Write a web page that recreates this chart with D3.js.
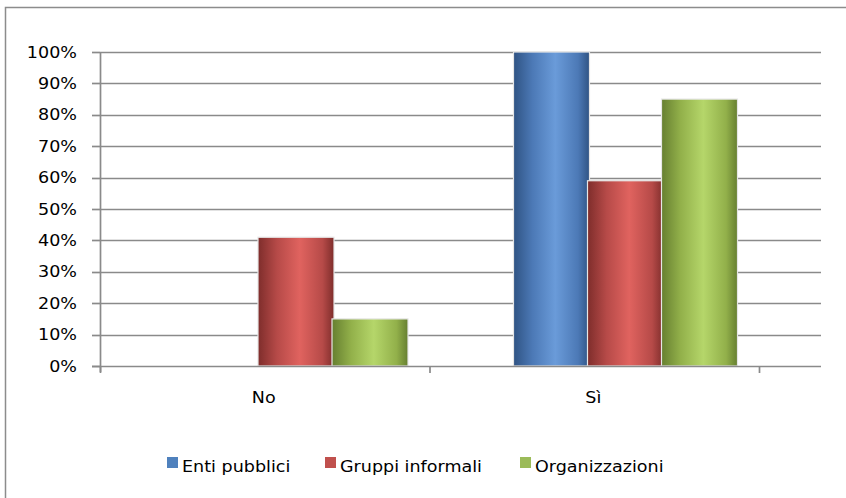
<!DOCTYPE html>
<html>
<head>
<meta charset="utf-8">
<script src="https://cdn.jsdelivr.net/npm/d3@7"></script>
<style>
  html, body { margin: 0; padding: 0; background: #fff; }
  svg { display: block; }
  text { font-family: "DejaVu Sans", Verdana, sans-serif; fill: #000; }
</style>
</head>
<body>
<svg id="chart" width="846" height="498"></svg>
<script>
const categories = ["No", "Sì"];
const seriesNames = ["Enti pubblici", "Gruppi informali", "Organizzazioni"];
const entiPubblici = [0, 100];
const gruppiInformali = [41, 59];
const organizzazioni = [15, 85];
const yTicks = [0, 10, 20, 30, 40, 50, 60, 70, 80, 90, 100];
const tickLabels = yTicks.map(v => v + "%");

(function () {
const seriesValues = [entiPubblici, gruppiInformali, organizzazioni];
const palette = [
  { dark: "#2f5383", mid: "#4c79b6", light: "#6a9bd9", flat: "#4f81bd" },
  { dark: "#7e2d2b", mid: "#b64a48", light: "#e0635f", flat: "#c0504d" },
  { dark: "#667f30", mid: "#92b04a", light: "#b5d66a", flat: "#9bbb59" }
];

const svg = d3.select("#chart");
const defs = svg.append("defs");
palette.forEach((c, i) => {
  const g = defs.append("linearGradient").attr("id", "grad" + i)
    .attr("x1", "0%").attr("x2", "100%").attr("y1", "0%").attr("y2", "0%");
  g.append("stop").attr("offset", "0%").attr("stop-color", c.dark);
  g.append("stop").attr("offset", "25%").attr("stop-color", c.mid);
  g.append("stop").attr("offset", "55%").attr("stop-color", c.light);
  g.append("stop").attr("offset", "85%").attr("stop-color", c.mid);
  g.append("stop").attr("offset", "100%").attr("stop-color", c.dark);
});

// outer chart border
svg.append("rect").attr("x", 5.5).attr("y", 7.5).attr("width", 900).attr("height", 600)
  .attr("fill", "#fff").attr("stroke", "#8c8c8c").attr("stroke-width", 1.5);

const mLeft = 100, mRight = 821, mTop = 52, mBottom = 366;
const y = d3.scaleLinear().domain([0, 100]).range([mBottom, mTop]);
const x0 = d3.scaleBand().domain(categories).range([mLeft, 759]).padding(0);
const x1 = d3.scaleBand().domain(seriesNames).range([84, 306]).padding(0);

// gridlines
svg.append("g").selectAll("line").data(yTicks.filter(v => v > 0)).join("line")
  .attr("x1", mLeft).attr("x2", mRight)
  .attr("y1", d => Math.round(y(d)) + 0.5).attr("y2", d => Math.round(y(d)) + 0.5)
  .attr("stroke", "#8a8a8a").attr("stroke-width", 1.7);

// y axis line & ticks
svg.append("line").attr("x1", mLeft + 0.5).attr("x2", mLeft + 0.5).attr("y1", mTop).attr("y2", mBottom + 6)
  .attr("stroke", "#8a8a8a").attr("stroke-width", 1.7);
svg.append("g").selectAll("line").data(yTicks).join("line")
  .attr("x1", mLeft - 8).attr("x2", mLeft)
  .attr("y1", d => Math.round(y(d)) + 0.5).attr("y2", d => Math.round(y(d)) + 0.5)
  .attr("stroke", "#8a8a8a").attr("stroke-width", 1.7);

// y labels
svg.append("g").selectAll("text").data(yTicks).join("text")
  .attr("transform", d => `translate(77,${y(d) + 5.5}) scale(1.17,1)`)
  .attr("text-anchor", "end").attr("font-size", 15)
  .text((d, i) => tickLabels[i]);

// bars
const groups = svg.append("g").selectAll("g").data(categories).join("g")
  .attr("transform", d => `translate(${x0(d)},0)`);
groups.selectAll("rect")
  .data((c, ci) => seriesNames.map((s, si) => ({ s, si, v: seriesValues[si][ci] })).filter(d => d.v > 0))
  .join("rect")
  .attr("x", d => x1(d.s))
  .attr("width", x1.bandwidth() + 2)
  .attr("y", d => y(d.v))
  .attr("height", d => y(0) - y(d.v))
  .attr("fill", d => `url(#grad${d.si})`)
  .attr("stroke", "#e6e6e6").attr("stroke-width", 1.2);

// x axis line & ticks
svg.append("line").attr("x1", mLeft - 8).attr("x2", mRight).attr("y1", mBottom + 0.5).attr("y2", mBottom + 0.5)
  .attr("stroke", "#8a8a8a").attr("stroke-width", 1.7);
const xTickPos = categories.map(c => x0(c)).concat([x0(categories[categories.length - 1]) + x0.bandwidth()]);
svg.append("g").selectAll("line").data(xTickPos).join("line")
  .attr("x1", d => d + 0.5).attr("x2", d => d + 0.5).attr("y1", mBottom).attr("y2", mBottom + 7)
  .attr("stroke", "#8a8a8a").attr("stroke-width", 1.7);

// x labels
svg.append("g").selectAll("text").data(categories).join("text")
  .attr("transform", d => `translate(${x0(d) + x0.bandwidth() / 2 - 1},403) scale(1.17,1)`)
  .attr("text-anchor", "middle").attr("font-size", 15)
  .text(d => d);

// legend
const legendX = [167, 325, 520];
const leg = svg.append("g").selectAll("g").data(seriesNames).join("g")
  .attr("transform", (d, i) => `translate(${legendX[i]},0)`);
leg.append("rect").attr("x", 0).attr("y", 457).attr("width", 11).attr("height", 11)
  .attr("fill", (d, i) => palette[i].flat);
leg.append("text").attr("transform", "translate(15,472) scale(1.17,1)")
  .attr("font-size", 15).text(d => d);
})();
</script>
</body>
</html>
